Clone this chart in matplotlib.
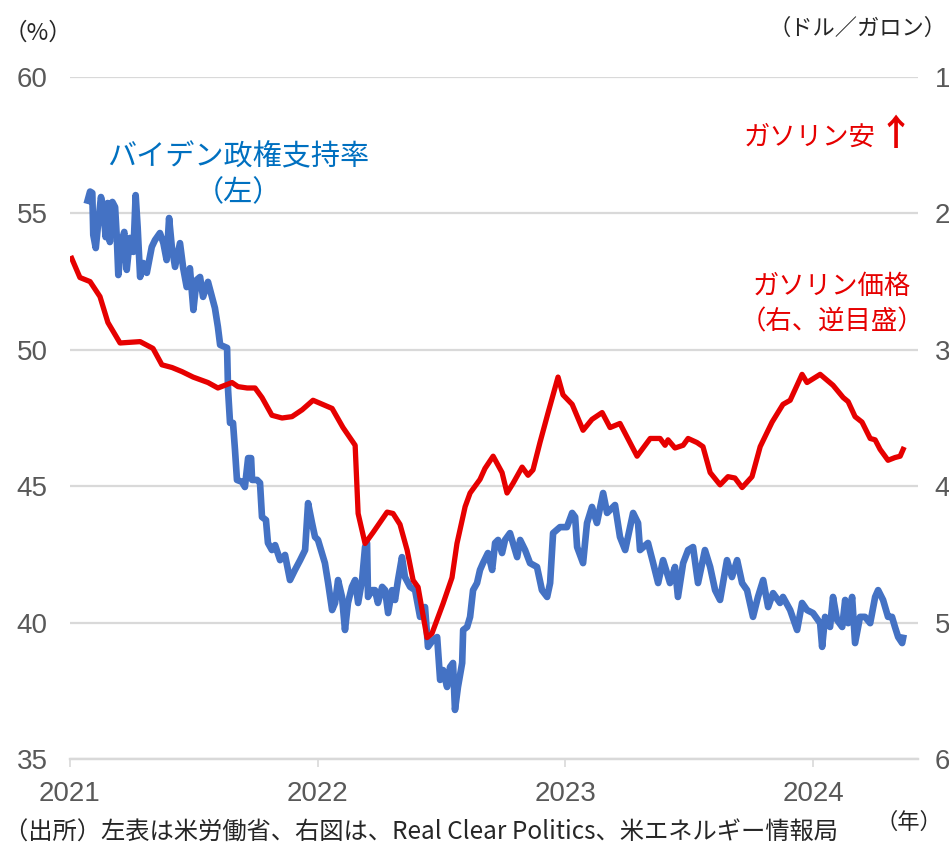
import numpy as np
from matplotlib import pyplot as plt

# Biden approval (%, left axis), decimal year
approval_t = [2021.071, 2021.081, 2021.090, 2021.094, 2021.104, 2021.114, 2021.125, 2021.134, 2021.144, 2021.152,
              2021.161, 2021.171, 2021.182, 2021.189, 2021.195, 2021.209, 2021.219, 2021.229, 2021.242, 2021.256,
              2021.265, 2021.273, 2021.283, 2021.296, 2021.310, 2021.330, 2021.343, 2021.363, 2021.377, 2021.390,
              2021.400, 2021.411, 2021.424, 2021.444, 2021.457, 2021.471, 2021.484, 2021.498, 2021.511, 2021.525,
              2021.537, 2021.557, 2021.573, 2021.585, 2021.597, 2021.606, 2021.634, 2021.638, 2021.646, 2021.658,
              2021.666, 2021.674, 2021.694, 2021.706, 2021.719, 2021.731, 2021.735, 2021.755, 2021.767, 2021.775,
              2021.791, 2021.799, 2021.815, 2021.828, 2021.848, 2021.868, 2021.888, 2021.908, 2021.929, 2021.949,
              2021.961, 2021.977, 2021.989, 2022.001, 2022.017, 2022.029, 2022.042, 2022.058, 2022.070, 2022.082,
              2022.098, 2022.110, 2022.122, 2022.138, 2022.151, 2022.163, 2022.179, 2022.191, 2022.199, 2022.203,
              2022.219, 2022.231, 2022.243, 2022.260, 2022.272, 2022.284, 2022.300, 2022.312, 2022.324, 2022.340,
              2022.352, 2022.373, 2022.393, 2022.413, 2022.433, 2022.445, 2022.465, 2022.482, 2022.494, 2022.506,
              2022.522, 2022.534, 2022.546, 2022.554, 2022.566, 2022.583, 2022.587, 2022.603, 2022.615, 2022.627,
              2022.643, 2022.655, 2022.667, 2022.687, 2022.704, 2022.716, 2022.728, 2022.744, 2022.756, 2022.776,
              2022.788, 2022.805, 2022.817, 2022.837, 2022.857, 2022.885, 2022.905, 2022.926, 2022.938, 2022.950,
              2022.978, 2023.006, 2023.027, 2023.039, 2023.047, 2023.071, 2023.087, 2023.107, 2023.127, 2023.152,
              2023.168, 2023.200, 2023.220, 2023.241, 2023.273, 2023.293, 2023.301, 2023.333, 2023.354, 2023.374,
              2023.394, 2023.422, 2023.442, 2023.454, 2023.475, 2023.495, 2023.515, 2023.535, 2023.563, 2023.584,
              2023.604, 2023.624, 2023.652, 2023.672, 2023.693, 2023.713, 2023.733, 2023.757, 2023.777, 2023.798,
              2023.818, 2023.838, 2023.866, 2023.878, 2023.907, 2023.935, 2023.955, 2023.975, 2023.999, 2024.028,
              2024.036, 2024.048, 2024.068, 2024.080, 2024.096, 2024.117, 2024.129, 2024.141, 2024.157, 2024.169,
              2024.189, 2024.209, 2024.230, 2024.250, 2024.262, 2024.282, 2024.302, 2024.318, 2024.330, 2024.343,
              2024.359, 2024.363]
approval = [55.47, 55.80, 55.75, 54.21, 53.73, 54.65, 55.60, 55.23, 54.13, 55.38,
            53.95, 55.42, 55.23, 54.10, 52.74, 54.02, 54.32, 52.93, 54.10, 53.59,
            55.67, 54.50, 52.67, 53.18, 52.82, 53.77, 54.02, 54.28, 53.91, 53.29,
            54.83, 53.77, 53.04, 53.91, 52.99, 52.30, 52.99, 51.46, 52.56, 52.67,
            51.94, 52.49, 51.94, 51.53, 50.84, 50.18, 50.07, 48.53, 47.32, 47.32,
            46.33, 45.23, 45.16, 44.97, 46.03, 46.03, 45.23, 45.23, 45.12, 43.87,
            43.76, 42.92, 42.66, 42.84, 42.29, 42.48, 41.56, 41.93, 42.29, 42.66,
            44.38, 43.65, 43.14, 43.03, 42.55, 42.18, 41.45, 40.46, 40.72, 41.56,
            40.94, 39.73, 40.72, 41.31, 41.56, 40.72, 41.56, 42.77, 42.92, 40.94,
            41.19, 41.19, 40.72, 41.31, 41.19, 40.35, 41.19, 40.83, 41.56, 42.40,
            41.67, 41.31, 41.19, 40.21, 40.57, 39.11, 39.36, 39.47, 37.90, 38.26,
            37.64, 38.37, 38.52, 36.80, 37.64, 38.52, 39.73, 39.84, 40.21, 41.19,
            41.45, 41.93, 42.18, 42.55, 41.93, 42.92, 43.03, 42.55, 43.03, 43.28,
            42.92, 42.40, 43.03, 42.66, 42.18, 42.04, 41.19, 40.94, 41.45, 43.28,
            43.50, 43.50, 44.02, 43.87, 42.77, 42.18, 43.65, 44.24, 43.65, 44.75,
            44.02, 44.31, 43.14, 42.66, 44.02, 43.65, 42.66, 42.92, 42.18, 41.45,
            42.29, 41.45, 42.04, 40.94, 42.18, 42.66, 42.77, 41.45, 42.66, 42.04,
            41.19, 40.83, 42.29, 41.67, 42.29, 41.45, 41.19, 40.21, 40.94, 41.56,
            40.57, 41.08, 40.72, 40.94, 40.46, 39.73, 40.72, 40.46, 40.35, 39.98,
            39.11, 40.21, 39.84, 40.94, 40.10, 39.84, 40.83, 39.98, 40.94, 39.25,
            40.21, 40.21, 39.98, 40.94, 41.19, 40.83, 40.21, 40.21, 39.84, 39.47,
            39.25, 39.44]

# gasoline price (USD/gallon, right axis, reversed)
gas_t = [2021.007, 2021.040, 2021.081, 2021.121, 2021.153, 2021.202, 2021.283, 2021.335, 2021.371, 2021.412,
         2021.452, 2021.497, 2021.557, 2021.597, 2021.654, 2021.678, 2021.715, 2021.747, 2021.775, 2021.815,
         2021.856, 2021.896, 2021.937, 2021.981, 2022.058, 2022.102, 2022.151, 2022.163, 2022.191, 2022.223,
         2022.280, 2022.304, 2022.332, 2022.361, 2022.385, 2022.405, 2022.441, 2022.461, 2022.506, 2022.542,
         2022.562, 2022.595, 2022.615, 2022.655, 2022.675, 2022.708, 2022.744, 2022.764, 2022.788, 2022.825,
         2022.849, 2022.869, 2022.897, 2022.930, 2022.970, 2022.990, 2023.027, 2023.071, 2023.107, 2023.148,
         2023.180, 2023.220, 2023.289, 2023.342, 2023.382, 2023.402, 2023.414, 2023.442, 2023.475, 2023.495,
         2023.531, 2023.555, 2023.584, 2023.624, 2023.656, 2023.684, 2023.713, 2023.753, 2023.786, 2023.834,
         2023.878, 2023.907, 2023.955, 2023.975, 2024.028, 2024.080, 2024.121, 2024.141, 2024.169, 2024.197,
         2024.230, 2024.250, 2024.270, 2024.302, 2024.330, 2024.351, 2024.363]
gas = [2.33, 2.47, 2.50, 2.61, 2.80, 2.95, 2.94, 2.99, 3.11, 3.13,
       3.16, 3.20, 3.24, 3.28, 3.24, 3.27, 3.28, 3.28, 3.35, 3.48,
       3.50, 3.49, 3.44, 3.37, 3.43, 3.57, 3.70, 4.20, 4.42, 4.34,
       4.19, 4.20, 4.28, 4.47, 4.69, 4.74, 5.11, 5.08, 4.86, 4.67,
       4.42, 4.15, 4.05, 3.95, 3.87, 3.78, 3.90, 4.05, 3.98, 3.86,
       3.92, 3.88, 3.68, 3.46, 3.20, 3.33, 3.40, 3.59, 3.51, 3.46,
       3.57, 3.54, 3.78, 3.65, 3.65, 3.70, 3.66, 3.72, 3.70, 3.65,
       3.68, 3.71, 3.90, 3.99, 3.93, 3.94, 4.01, 3.93, 3.71, 3.53,
       3.40, 3.37, 3.18, 3.24, 3.18, 3.26, 3.35, 3.38, 3.49, 3.53,
       3.65, 3.66, 3.73, 3.81, 3.79, 3.78, 3.73]

years = [2021, 2022, 2023, 2024]
left_ticks = [35, 40, 45, 50, 55, 60]
right_ticks = [1, 2, 3, 4, 5, 6]

W, H = 949, 848
jp = ['Noto Sans CJK JP', 'DejaVu Sans']
num = ['Liberation Sans', 'DejaVu Sans']
grey = '#595959'

fig = plt.figure(figsize=(W/100, H/100), dpi=100)
ax = fig.add_axes([70/W, 1-759/H, 848/W, 682/H])
ax2 = ax.twinx()

ax.plot(approval_t, approval, color='#4472C4', lw=4.8, solid_joinstyle='round', zorder=3)
ax2.plot(gas_t, gas, color='#E60000', lw=3.8, solid_joinstyle='round', zorder=3)

ax.set_xlim(2021, 2024.423)
ax.set_ylim(35, 60)
ax2.set_ylim(6, 1)
ax.set_yticks(left_ticks)
ax2.set_yticks(right_ticks)
ax.set_xticks(years)
ax.set_xticklabels([str(y) for y in years])

ax.grid(axis='y', color='#D9D9D9', lw=1.6)
ax.set_axisbelow(True)
for a in (ax, ax2):
    for s in ('left', 'right', 'top'):
        a.spines[s].set_visible(False)
    a.spines['bottom'].set_color('#D9D9D9')
    a.spines['bottom'].set_linewidth(1.6)

ax.tick_params(axis='y', length=0, pad=16, labelsize=20, labelcolor=grey)
ax2.tick_params(axis='y', length=0, pad=12, labelsize=20, labelcolor=grey)
ax.tick_params(axis='x', length=6, width=1.2, color='#D9D9D9', pad=10, labelsize=20, labelcolor=grey)
for lab in ax.get_xticklabels() + ax.get_yticklabels() + ax2.get_yticklabels():
    lab.set_fontfamily(num)

# annotations
def ftext(x, y, s, **kw):
    fig.text(x/W, 1-y/H, s, family=jp, **kw)

ftext(38, 33, '（%）', fontsize=17, ha='center', va='center', color='#262626')
ftext(858, 28, '（ドル／ガロン）', fontsize=16, ha='center', va='center', color='#262626')
ftext(238, 157, 'バイデン政権支持率', fontsize=21, ha='center', va='center', color='#0070C0')
ftext(238, 193, '（左）', fontsize=21, ha='center', va='center', color='#0070C0')
ftext(810, 137, 'ガソリン安', fontsize=19, ha='center', va='center', color='#E60000')
ftext(896, 134, '↑', fontsize=26, ha='center', va='center', color='#E60000', fontweight='bold')
ftext(832, 286, 'ガソリン価格', fontsize=19, ha='center', va='center', color='#E60000')
ftext(832, 322, '（右、逆目盛）', fontsize=19, ha='center', va='center', color='#E60000')
ftext(909, 822, '（年）', fontsize=16, ha='center', va='center', color='#262626')
ftext(4, 833, '（出所）左表は米労働省、右図は、Real Clear Politics、米エネルギー情報局', fontsize=17.5,
      ha='left', va='center', color='#262626')

fig.savefig('out.png', dpi=100)
